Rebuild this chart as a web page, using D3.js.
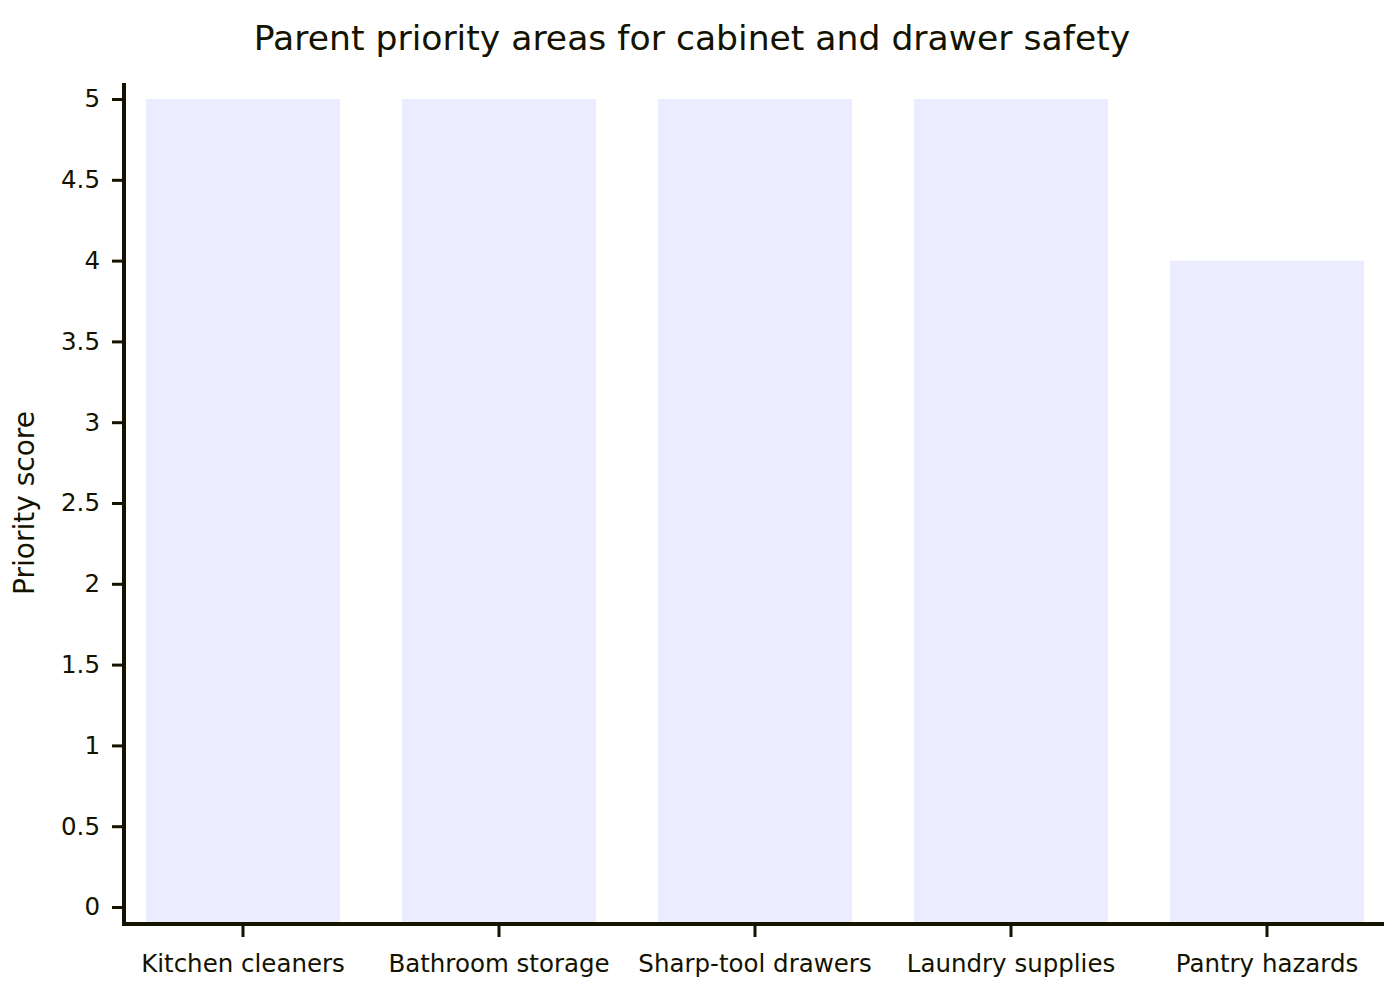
<!DOCTYPE html>
<html>
  <head>
    <meta charset="utf-8">
    <title>Parent priority areas for cabinet and drawer safety</title>
    <script src="https://cdn.jsdelivr.net/npm/d3@7"></script>
    <style>
      body { margin: 0; background: #fff; }
      text { font-family: "DejaVu Sans", Verdana, sans-serif; fill: #131300; }
    </style>
  </head>
  <body>
    <svg id="chart" width="1400" height="1000"></svg>
    <script>
      // data
      categories = ["Kitchen cleaners", "Bathroom storage", "Sharp-tool drawers", "Laundry supplies", "Pantry hazards"];
      scores = [5, 5, 5, 5, 4];
      yTicks = [0, 0.5, 1, 1.5, 2, 2.5, 3, 3.5, 4, 4.5, 5];

      svg = d3.select("#chart");
      ink = "#131300";
      plotBottom = 922;

      x = d3.scaleBand()
        .domain(categories)
        .range([115, 1395])
        .paddingInner(0.2422)
        .paddingOuter(0.1211);
      y = d3.scaleLinear()
        .domain([0, 5])
        .range([907, 99]);

      // bars
      svg.append("g")
        .selectAll("rect")
        .data(scores)
        .join("rect")
          .attr("x", (d, i) => x(categories[i]))
          .attr("y", d => y(d))
          .attr("width", x.bandwidth())
          .attr("height", d => plotBottom - y(d))
          .attr("fill", "#ECECFF");

      // y axis
      yAxis = svg.append("g")
        .attr("transform", "translate(124,0)")
        .call(d3.axisLeft(y).tickValues(yTicks).tickSize(12).tickPadding(12).tickFormat(d3.format("")));
      yAxis.select(".domain").remove();
      yAxis.append("line")
        .attr("y1", 83).attr("y2", 926)
        .attr("stroke", ink).attr("stroke-width", 4);
      yAxis.selectAll(".tick line").attr("stroke", ink).attr("stroke-width", 3);
      yAxis.selectAll(".tick text")
        .attr("font-size", 24.5)
        .attr("font-family", "DejaVu Sans")
        .attr("fill", ink);

      // x axis
      xAxis = svg.append("g")
        .attr("transform", "translate(0,926)")
        .call(d3.axisBottom(x).tickSize(11).tickPadding(18));
      xAxis.select(".domain").remove();
      xAxis.append("line")
        .attr("x1", 124).attr("x2", 1384).attr("y1", -2).attr("y2", -2)
        .attr("stroke", ink).attr("stroke-width", 4);
      xAxis.selectAll(".tick line").attr("stroke", ink).attr("stroke-width", 3);
      xAxis.selectAll(".tick text")
        .attr("font-size", 24.5)
        .attr("font-family", "DejaVu Sans")
        .attr("fill", ink);

      // titles
      svg.append("text")
        .attr("x", 692).attr("y", 50)
        .attr("text-anchor", "middle")
        .attr("font-size", 34.6)
        .text("Parent priority areas for cabinet and drawer safety");
      svg.append("text")
        .attr("transform", "translate(34,503) rotate(-90)")
        .attr("text-anchor", "middle")
        .attr("font-size", 28)
        .text("Priority score");
    </script>
  </body>
</html>
